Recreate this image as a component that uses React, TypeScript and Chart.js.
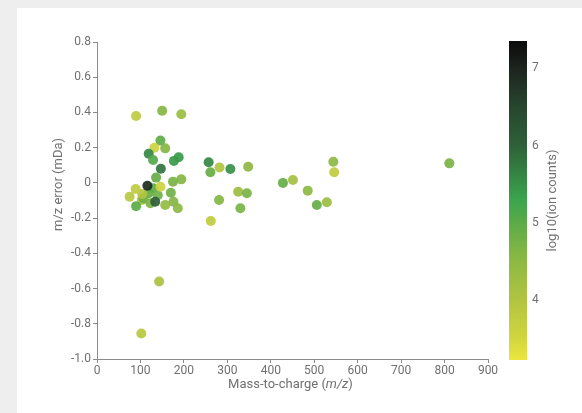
import React, { useEffect, useRef } from "react";
import { Chart, registerables } from "chart.js";
Chart.register(...registerables);

// ---- data ----
const massToCharge = [
  103, 119, 107, 123, 176, 104, 129, 140,
  90, 150, 194, 146, 157, 132, 119, 129, 177, 188, 136, 146, 175, 194,
  89, 75, 90, 157, 170, 186,
  257, 261, 282, 307, 348, 325, 345, 281, 330, 262,
  428, 451, 485, 506, 529, 544, 546, 811, 143, 102,
  147, 116, 134,
];
const mzError = [
  -0.097, -0.059, -0.088, -0.116, -0.107, -0.063, -0.03, -0.07,
  0.38, 0.41, 0.39, 0.24, 0.196, 0.2, 0.165, 0.13, 0.125, 0.146, 0.03, -0.022, 0.007, 0.02,
  -0.035, -0.078, -0.132, -0.126, -0.056, -0.144,
  0.117, 0.06, 0.088, 0.079, 0.092, -0.05, -0.059, -0.097, -0.144, -0.216,
  0.0, 0.016, -0.044, -0.126, -0.11, 0.12, 0.06, 0.111, -0.56, -0.855,
  0.08, -0.016, -0.107,
];
const logCounts = [
  4.0, 4.9, 4.8, 4.7, 4.6, 4.0, 5.0, 4.8,
  3.8, 4.6, 4.3, 5.0, 4.6, 3.6, 5.6, 5.1, 5.4, 5.4, 4.9, 3.6, 4.7, 4.6,
  3.8, 3.9, 5.0, 4.4, 4.8, 4.5,
  5.6, 4.9, 4.0, 5.5, 4.5, 4.3, 4.7, 4.6, 4.7, 3.8,
  4.9, 4.2, 4.5, 4.9, 4.3, 4.5, 3.8, 4.7, 4.1, 3.9,
  5.8, 6.9, 6.0,
];

const xTickValues = [0, 100, 200, 300, 400, 500, 600, 700, 800, 900];
const yTickLabels = ["0.8", "0.6", "0.4", "0.2", "0", "-0.2", "-0.4", "-0.6", "-0.8", "-1.0"];
const colorbarTicks = [4, 5, 6, 7];
const colorMin = 3.23;
const colorMax = 7.35;
const cbStops = [3.23, 3.5, 4.0, 4.5, 5.0, 5.3, 6.0, 6.5, 7.0, 7.35];
const cbColors = ["#ece63e", "#d2d63e", "#b2c441", "#8eb943", "#5cab48", "#3aa54e", "#2f6039", "#27462e", "#1c241e", "#0b0b0b"];

const TEXT = "#707070";
const AXIS = "#8a8a8a";
const FONT = "Roboto";

function hexToRgb(h: string) {
  const n = parseInt(h.slice(1), 16);
  return [(n >> 16) & 255, (n >> 8) & 255, n & 255];
}
function colorFor(v: number) {
  const t = Math.max(colorMin, Math.min(colorMax, v));
  for (let i = 0; i < cbStops.length - 1; i++) {
    if (t >= cbStops[i] && t <= cbStops[i + 1]) {
      const f = (t - cbStops[i]) / (cbStops[i + 1] - cbStops[i]);
      const a = hexToRgb(cbColors[i]);
      const b = hexToRgb(cbColors[i + 1]);
      const c = a.map((x, k) => Math.round(x + (b[k] - x) * f));
      return `rgba(${c[0]},${c[1]},${c[2]},0.92)`;
    }
  }
  return cbColors[0];
}

const decorPlugin = {
  id: "decor",
  afterDraw(chart: any) {
    const ctx = chart.ctx as CanvasRenderingContext2D;
    const a = chart.chartArea;
    ctx.save();
    // colorbar
    const bx = a.right + 21;
    const bw = 18;
    const bt = a.top - 1;
    const bb = a.bottom + 1;
    const g = ctx.createLinearGradient(0, bb, 0, bt);
    cbStops.forEach((s, i) => g.addColorStop((s - colorMin) / (colorMax - colorMin), cbColors[i]));
    ctx.fillStyle = g;
    ctx.fillRect(bx, bt, bw, bb - bt);
    ctx.fillStyle = TEXT;
    ctx.font = `12px ${FONT}`;
    ctx.textAlign = "left";
    ctx.textBaseline = "middle";
    colorbarTicks.forEach((t) => {
      const y = bb - ((t - colorMin) / (colorMax - colorMin)) * (bb - bt);
      ctx.fillText(String(t), bx + bw + 5, y);
    });
    // colorbar title
    ctx.save();
    ctx.translate(bx + bw + 26, (bt + bb) / 2);
    ctx.rotate(-Math.PI / 2);
    ctx.textAlign = "center";
    ctx.textBaseline = "middle";
    ctx.font = `13px ${FONT}`;
    ctx.fillText("log10(ion counts)", 0, 0);
    ctx.restore();
    // y title
    ctx.save();
    ctx.translate(a.left - 38, (a.top + a.bottom) / 2 - 16);
    ctx.rotate(-Math.PI / 2);
    ctx.textAlign = "center";
    ctx.textBaseline = "middle";
    ctx.font = `13px ${FONT}`;
    ctx.fillText("m/z error (mDa)", 0, 0);
    ctx.restore();
    // x title with italic part
    const parts: [string, string][] = [
      ["Mass-to-charge (", `13px ${FONT}`],
      ["m/z", `italic 13px ${FONT}`],
      [")", `13px ${FONT}`],
    ];
    let total = 0;
    parts.forEach(([s, f]) => { ctx.font = f; total += ctx.measureText(s).width; });
    let x = (a.left + a.right) / 2 - 2 - total / 2;
    const y = a.bottom + 26;
    ctx.textAlign = "left";
    ctx.textBaseline = "middle";
    parts.forEach(([s, f]) => { ctx.font = f; ctx.fillText(s, x, y); x += ctx.measureText(s).width; });
    ctx.restore();
  },
};

export default function App() {
  const ref = useRef<HTMLCanvasElement | null>(null);
  useEffect(() => {
    if (!ref.current) return;
    const pts = massToCharge.map((m, i) => ({ x: m, y: mzError[i] }));
    const cols = logCounts.map(colorFor);
    const chart = new Chart(ref.current, {
      type: "scatter",
      data: {
        datasets: [
          {
            data: pts,
            pointRadius: 5,
            pointHoverRadius: 5,
            pointBackgroundColor: cols,
            pointBorderColor: cols,
            pointBorderWidth: 0,
          },
        ],
      },
      options: {
        animation: false,
        responsive: false,
        devicePixelRatio: 1,
        layout: { padding: { left: 0, top: 34, right: 94, bottom: 0 } },
        plugins: { legend: { display: false }, tooltip: { enabled: false } },
        scales: {
          x: {
            type: "linear",
            min: 0,
            max: 900,
            afterBuildTicks: (s: any) => { s.ticks = xTickValues.map((v) => ({ value: v })); },
            afterFit: (s: any) => { s.height = 54; },
            ticks: { color: TEXT, font: { family: FONT, size: 12 }, padding: 1, maxRotation: 0, autoSkip: false },
            grid: { drawOnChartArea: false, drawTicks: true, tickLength: 4, color: AXIS },
            border: { display: true, color: AXIS, width: 1 },
          },
          y: {
            type: "linear",
            min: -1,
            max: 0.8,
            afterBuildTicks: (s: any) => {
              s.ticks = yTickLabels.map((_, i) => ({ value: 0.8 - 0.2 * i }));
            },
            afterFit: (s: any) => { s.width = 80; },
            ticks: {
              color: TEXT,
              font: { family: FONT, size: 12 },
              padding: 2,
              autoSkip: false,
              callback: (v: any) => yTickLabels[Math.round((0.8 - Number(v)) / 0.2)],
            },
            grid: { drawOnChartArea: false, drawTicks: true, tickLength: 4, color: AXIS },
            border: { display: true, color: AXIS, width: 1 },
          },
        },
      },
      plugins: [decorPlugin],
    });
    return () => chart.destroy();
  }, []);
  return (
    <div style={{ position: "fixed", inset: 0, background: "#eeeeee" }}>
      <div style={{ position: "absolute", left: 17, top: 8, width: 565, height: 405, background: "#ffffff" }}>
        <canvas ref={ref} width={565} height={405} style={{ display: "block", width: 565, height: 405 }} />
      </div>
    </div>
  );
}
